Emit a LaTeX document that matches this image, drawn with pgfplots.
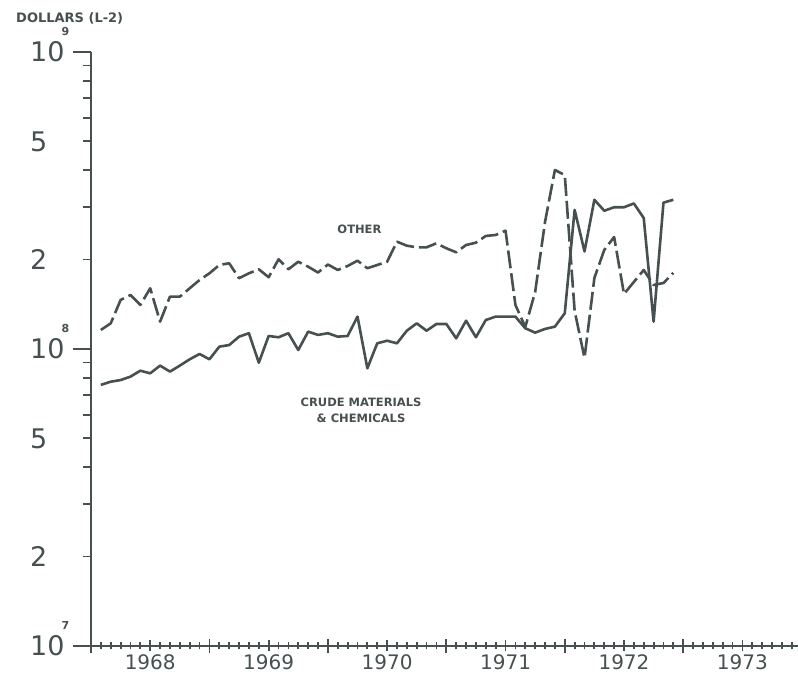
\documentclass[border=0pt]{standalone}
\usepackage{fontspec}
\setmainfont{DejaVu Sans}
\usepackage{pgfplots}
\pgfplotsset{compat=1.18}
\usepackage{pgfplotstable}
\definecolor{plotgray}{RGB}{70,80,80}
\newcommand\expo[1]{\smash{\rlap{\kern-3pt\raisebox{26pt}{\fontsize{11}{11}\selectfont\bfseries #1}}}}

\pgfplotstableread{
m crude other
1 7.57e7 1.159e8
2 7.76e7 1.220e8
3 7.86e7 1.462e8
4 8.07e7 1.520e8
5 8.45e7 1.407e8
6 8.28e7 1.601e8
7 8.79e7 1.236e8
8 8.39e7 1.500e8
9 8.79e7 1.500e8
10 9.23e7 1.601e8
11 9.62e7 1.707e8
12 9.23e7 1.798e8
13 1.018e8 1.918e8
14 1.031e8 1.944e8
15 1.100e8 1.730e8
16 1.130e8 1.798e8
17 8.99e7 1.855e8
18 1.106e8 1.744e8
19 1.095e8 2.004e8
20 1.130e8 1.855e8
21 9.92e7 1.967e8
22 1.144e8 1.893e8
23 1.115e8 1.809e8
24 1.130e8 1.925e8
25 1.100e8 1.845e8
26 1.106e8 1.903e8
27 1.285e8 1.983e8
28 8.61e7 1.870e8
29 1.045e8 1.918e8
30 1.066e8 1.967e8
31 1.045e8 2.297e8
32 1.152e8 2.227e8
33 1.220e8 2.199e8
34 1.152e8 2.199e8
35 1.214e8 2.269e8
36 1.214e8 2.183e8
37 1.086e8 2.116e8
38 1.245e8 2.239e8
39 1.095e8 2.280e8
40 1.252e8 2.402e8
41 1.285e8 2.420e8
42 1.285e8 2.502e8
43 1.285e8 1.407e8
44 1.174e8 1.186e8
45 1.135e8 1.556e8
46 1.168e8 2.677e8
47 1.189e8 4.005e8
48 1.319e8 3.853e8
49 2.94e8 1.343e8
50 2.13e8 9.33e7
51 3.18e8 1.734e8
52 2.92e8 2.154e8
53 3.00e8 2.383e8
54 3.00e8 1.532e8
55 3.09e8 1.681e8
56 2.76e8 1.845e8
57 1.236e8 1.642e8
58 3.11e8 1.668e8
59 3.18e8 1.803e8
}\datatable

\begin{document}
\begin{tikzpicture}
\begin{axis}[
  scale only axis, width=707pt, height=594pt,
  xmin=0, xmax=71.63,
  ymode=log, ymin=1e7, ymax=1e9,
  axis x line=bottom, axis y line=left,
  axis line style={-, draw=plotgray, line width=2.2pt},
  xtick=\empty,
  ytick={1e7,1e8,1e9},
  yticklabels={10\expo{7},10\expo{8},10\expo{9}},
  minor ytick={2e7,3e7,4e7,5e7,6e7,7e7,8e7,9e7,2e8,3e8,4e8,5e8,6e8,7e8,8e8,9e8},
  extra y ticks={2e7,5e7,2e8,5e8},
  extra y tick labels={2,5,2,5},
  extra y tick style={tick style={draw=none}},
  tick align=outside,
  major tick length=18pt, minor tick length=8pt,
  tick style={draw=plotgray, line width=1.8pt},
  yticklabel style={anchor=west, inner sep=0pt, xshift=-43pt,
    font=\fontsize{27}{27}\selectfont, text=plotgray},
  clip=false,
]
\addplot[plotgray, line width=2.6pt, line join=round] table[x=m, y=crude]{\datatable};
\addplot[plotgray, line width=2.6pt, line join=round, dash pattern=on 18pt off 5pt] table[x=m, y=other]{\datatable};
\node[font=\fontsize{11.5}{11.5}\selectfont\bfseries, text=plotgray] at (axis cs:27.2,2.52e8) {OTHER};
\node[align=center, font=\fontsize{11.5}{16}\selectfont\bfseries, text=plotgray] at (axis cs:27.36,6.23e7) {CRUDE MATERIALS\\\& CHEMICALS};
\node[font=\fontsize{13}{13}\selectfont\bfseries, text=plotgray] at (rel axis cs:-0.0301,1.0564) {DOLLARS (L-2)};
\end{axis}
\begin{axis}[
  scale only axis, width=707pt, height=594pt,
  xmin=0, xmax=71.63, ymin=0, ymax=1,
  axis x line=bottom, hide y axis,
  axis line style={-, draw=plotgray, line width=2.2pt},
  xtick={0,12,24,36,48,60}, xticklabels={},
  minor xtick={1,2,...,71},
  tick align=center,
  major tick length=14pt, minor tick length=7pt,
  tick style={draw=plotgray, line width=1.8pt},
]
\end{axis}
\begin{axis}[
  scale only axis, width=707pt, height=594pt,
  xmin=0, xmax=71.63, ymin=0, ymax=1,
  axis x line=bottom, hide y axis,
  axis line style={-, draw=plotgray, line width=2.2pt},
  xtick={6,18,30,42,54,66},
  xticklabels={1968,1969,1970,1971,1972,1973},
  tick align=center,
  major tick length=11pt,
  tick style={draw=plotgray, line width=1.8pt},
  xticklabel style={font=\fontsize{20}{20}\selectfont, text=plotgray},
]
\end{axis}
\pgfresetboundingbox
\path (-91pt,-34pt) rectangle (707pt,646pt);
\end{tikzpicture}
\end{document}
